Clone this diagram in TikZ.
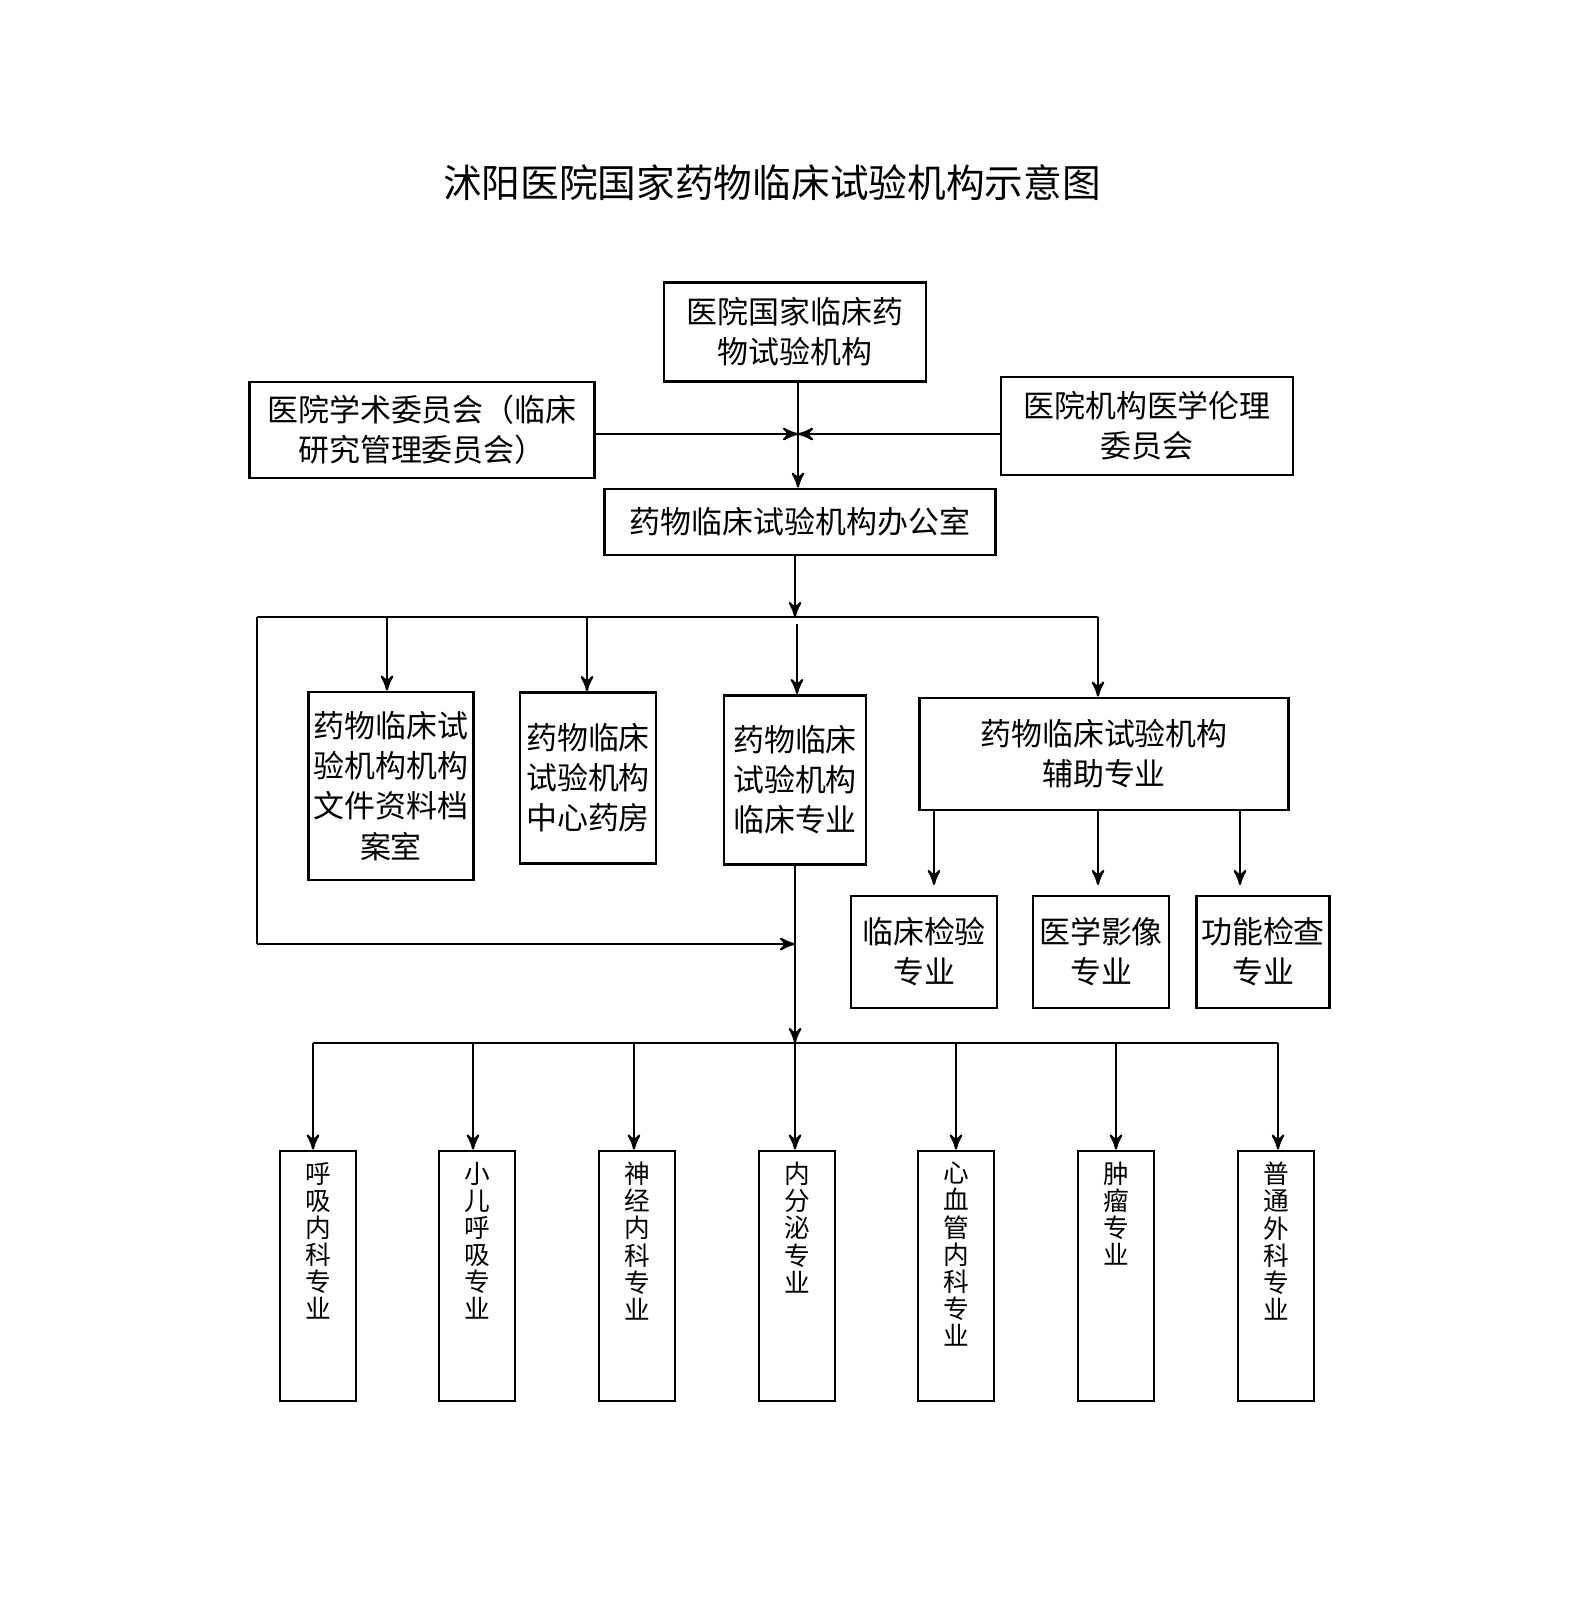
\documentclass[tikz,border=0pt]{standalone}
\usepackage{fontspec}
\setmainfont{Noto Sans CJK SC}
\usetikzlibrary{arrows,positioning}
\tikzset{
	box/.style = {draw, thick, inner sep=0pt, align=center, font=\fontsize{8.8}{11.4}\selectfont},
	vbox/.style = {draw, thick, inner sep=0pt, minimum width=0.76cm, minimum height=2.5cm},
	arr/.style = {->, >=stealth', semithick},
}
\begin{document}
\begin{tikzpicture}[x=0.01cm, y=-0.01cm]
	\useasboundingbox (0,0) rectangle (1587,1614);
	% title
	\node (title) at (772,183) {\fontsize{11}{12}\selectfont 沭阳医院国家药物临床试验机构示意图};
	
	% top level
	\node[box, minimum width=2.62cm, minimum height=0.99cm] (inst) at (795,332) {医院国家临床药\\物试验机构};
	\node[box, minimum width=3.45cm, minimum height=0.96cm] (acad) at (422,430) {医院学术委员会（临床\\研究管理委员会）};
	\node[box, minimum width=2.92cm, minimum height=0.98cm] (ethic) at (1147,426) {医院机构医学伦理\\委员会};
	\node[box, minimum width=3.91cm, minimum height=0.66cm] (office) at (800,522) {药物临床试验机构办公室};
	\coordinate (mid) at (798,434);
	\draw[arr] (inst.south -| mid) -- (office.north -| mid);
	\draw[arr] (acad.east |- mid) -- (mid);
	\draw[arr] (ethic.west |- mid) -- (mid);
	
	% second level
	\coordinate (busL) at (257,617);
	\coordinate (busR) at (1098,617);
	\draw[arr] (795,555) -- (795,617);
	\draw[semithick] (busL) -- (busR);
	\node[box, minimum width=1.65cm, minimum height=1.88cm, text width=1.6cm] (archive) at (391,786) {药物临床试\\验机构机构\\文件资料档\\案室};
	\node[box, minimum width=1.36cm, minimum height=1.71cm] (pharm) at (588,778) {药物临床\\试验机构\\中心药房};
	\node[box, minimum width=1.42cm, minimum height=1.69cm] (clin) at (795,780) {药物临床\\试验机构\\临床专业};
	\node[box, minimum width=3.69cm, minimum height=1.12cm] (aux) at (1104,754) {药物临床试验机构\\辅助专业};
	\draw[arr] (387,617) -- (archive.north -| 387,0);
	\draw[arr] (587,617) -- (pharm.north -| 587,0);
	\draw[arr] (797,624) -- (clin.north -| 797,0);
	\draw[arr] (busR) -- (aux.north -| busR);
	
	% auxiliary
	\node[box, minimum width=1.46cm, minimum height=1.12cm] (lab) at (924,952) {临床检验\\专业};
	\node[box, minimum width=1.36cm, minimum height=1.12cm] (img) at (1101,952) {医学影像\\专业};
	\node[box, minimum width=1.33cm, minimum height=1.12cm] (func) at (1263,952) {功能检查\\专业};
	\foreach \x in {934,1098,1240}
		\draw[arr] (\x,810) -- (\x,885);
	
	% clinical departments
	\draw[semithick] (busL) -- (257,944);
	\draw[arr] (257,944) -- (795,944);
	\draw[arr] (clin.south) -- (795,1043);
	\draw[semithick] (313,1043) -- (1278,1043);
	\foreach \x/\t/\n in {318/呼\\吸\\内\\科\\专\\业/d1, 477/小\\儿\\呼\\吸\\专\\业/d2,
		637/神\\经\\内\\科\\专\\业/d3, 797/内\\分\\泌\\专\\业/d4,
		956/心\\血\\管\\内\\科\\专\\业/d5, 1116/肿\\瘤\\专\\业/d6,
		1276/普\\通\\外\\科\\专\\业/d7}{
		\node[vbox] (\n) at (\x,1276) {};
		\node[below=0.12cm of \n.north, align=center, inner sep=0pt, font=\fontsize{7.3}{7.7}\selectfont] {\t};
	}
	\foreach \x/\n in {313/d1, 473/d2, 634/d3, 795/d4, 956/d5, 1116/d6, 1278/d7}
		\draw[arr] (\x,1043) -- (\n.north -| \x,0);
\end{tikzpicture}
\end{document}
